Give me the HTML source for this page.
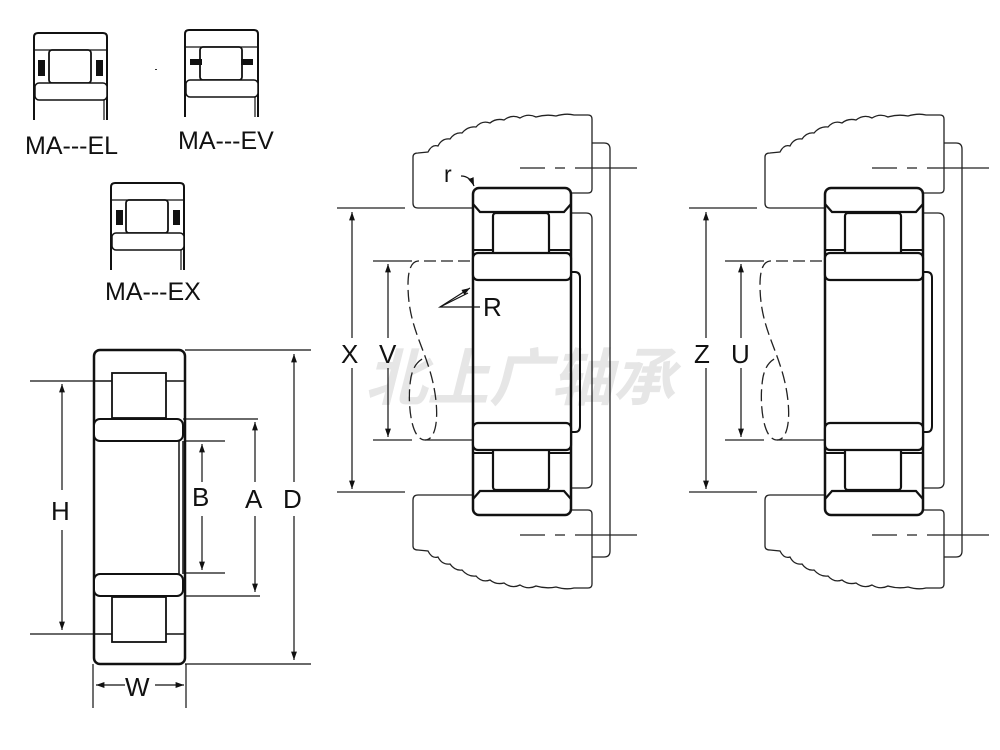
<!DOCTYPE html>
<html><head><meta charset="utf-8"><style>
html,body{margin:0;padding:0;background:#fff;}
svg{display:block;}
text{font-family:"Liberation Sans","Noto Sans CJK SC",sans-serif;fill:#111;}
</style></head><body>
<svg width="1000" height="750" viewBox="0 0 1000 750" xmlns="http://www.w3.org/2000/svg">
<defs>
<marker id="ar" viewBox="0 0 10 10" refX="10" refY="5" markerWidth="7" markerHeight="7" orient="auto-start-reverse"><path d="M0,1.5 L10,5 L0,8.5 z" fill="#111"/></marker>
<g id="icon">
 <path d="M0,87 V4 Q0,0 4,0 H69 Q73,0 73,4 V87" fill="none" stroke="#111" stroke-width="2"/>
 <line x1="70" y1="50" x2="70" y2="87" stroke="#111" stroke-width="1.2"/>
 <line x1="1" y1="17" x2="73" y2="17" stroke="#111" stroke-width="1.2"/>
 <rect x="15" y="17" width="42" height="33" rx="3" fill="#fff" stroke="#111" stroke-width="1.8"/>
 <rect x="1" y="50" width="72" height="17" rx="4" fill="#fff" stroke="#111" stroke-width="1.5"/>
</g>
<g id="mid">
 <path d="M472,208 H418 Q413,208 413,203 V157 Q413,153 418,153 L428,152 Q432,144 438,146 Q442,138 450,139 Q455,132 462,133 Q468,126 476,127 Q482,120 490,123 Q496,118 504,120 Q512,114 520,118 Q528,113 536,117 Q546,114 556,116 Q566,113 574,115 H588 Q592,115 592,119 V189 Q592,193 588,193 H571" fill="none" stroke="#222" stroke-width="1.3"/>
 <path d="M472,495 H418 Q413,495 413,500 V546 Q413,550 418,550 L428,551 Q432,559 438,557 Q442,565 450,564 Q455,571 462,570 Q468,577 476,576 Q482,583 490,580 Q496,585 504,583 Q512,589 520,585 Q528,590 536,586 Q546,589 556,587 Q566,590 574,588 H588 Q592,588 592,584 V514 Q592,510 588,510 H571" fill="none" stroke="#222" stroke-width="1.3"/>
 <path d="M592,143 H604 Q610,143 610,149 V551 Q610,557 604,557 H592" fill="none" stroke="#222" stroke-width="1.3"/>
 <path d="M571,213 H586 Q592,213 592,219 V482 Q592,488 586,488 H571" fill="none" stroke="#222" stroke-width="1.3"/>
 <path d="M520,168 H545 M555,168 H565 M575,168 H637" stroke="#222" stroke-width="1.2"/>
 <path d="M520,535 H545 M555,535 H565 M575,535 H637" stroke="#222" stroke-width="1.2"/>
 <rect x="473" y="188" width="98" height="327" rx="6" fill="none" stroke="#111" stroke-width="2.5"/>
 <path d="M473,204 L480,212 H564 L571,204" fill="none" stroke="#111" stroke-width="2.2"/>
 <path d="M473,499 L480,491 H564 L571,499" fill="none" stroke="#111" stroke-width="2.2"/>
 <rect x="493" y="213" width="56" height="42" rx="3" fill="#fff" stroke="#111" stroke-width="2.2"/>
 <rect x="493" y="448" width="56" height="42" rx="3" fill="#fff" stroke="#111" stroke-width="2.2"/>
 <path d="M473,250 H493 M549,250 H571 M473,453 H493 M549,453 H571" stroke="#111" stroke-width="2"/>
 <rect x="473" y="253" width="98" height="27" rx="5" fill="#fff" stroke="#111" stroke-width="2.2"/>
 <rect x="473" y="423" width="98" height="27" rx="5" fill="#fff" stroke="#111" stroke-width="2.2"/>
 <path d="M571,272 H575 Q580,272 580,278 V426 Q580,432 575,432 H571" fill="none" stroke="#111" stroke-width="2"/>
 <path d="M470,261 H418 Q408,262 408,285 C408,320 420,340 428,365 C440,400 440,440 425,440 C410,440 408,400 410,385 C411,370 416,362 424,358" fill="none" stroke="#222" stroke-width="1.3" stroke-dasharray="12,5"/>
 <path d="M425,440 H472" stroke="#222" stroke-width="1.2"/>
 <path d="M337,208 H405 M337,492 H405 M373,261 H412" stroke="#222" stroke-width="1.2"/>
 <path d="M373,440 H412" stroke="#222" stroke-width="1.2"/>
</g>
</defs>

<use href="#icon" x="34" y="33"/>
<rect x="38" y="60" width="7" height="16" fill="#111"/><rect x="96" y="60" width="7" height="16" fill="#111"/>
<use href="#icon" x="185" y="30"/>
<rect x="190" y="59" width="12" height="6" fill="#111"/><rect x="241" y="59" width="12" height="6" fill="#111"/>
<use href="#icon" x="111" y="183"/>
<rect x="116" y="210" width="7" height="15" fill="#111"/><rect x="173" y="210" width="7" height="15" fill="#111"/>
<rect x="155" y="69" width="2" height="1" fill="#333"/>
<text x="25" y="154" font-size="25">MA---EL</text>
<text x="178" y="149" font-size="25">MA---EV</text>
<text x="105" y="300" font-size="25">MA---EX</text>

<text x="365" y="400" font-size="62" font-weight="bold" font-style="italic" style="fill:#e6e6e6" font-family="'Noto Sans CJK SC',sans-serif">北上广轴承</text>

<g stroke="#111" fill="none">
 <rect x="94" y="350" width="91" height="314" rx="6" stroke-width="2.5"/>
 <rect x="112" y="373" width="54" height="45" stroke-width="1.8" fill="#fff"/>
 <rect x="112" y="597" width="54" height="45" stroke-width="1.8" fill="#fff"/>
 <path d="M94,381 H112 M166,381 H184 M94,634 H112 M166,634 H184" stroke-width="1.5"/>
 <rect x="94" y="419" width="89" height="22" rx="6" stroke-width="2" fill="#fff"/>
 <rect x="94" y="574" width="89" height="22" rx="6" stroke-width="2" fill="#fff"/>
 <path d="M179,441 V574 M183,441 V574" stroke-width="1.5"/>
 <path d="M185,350 H311 M185,664 H311 M183,419 H258 M184,596 H260 M184,441 H225 M184,573 H225 M30,381 H94 M30,634 H94" stroke-width="1.2"/>
 <path d="M93,664 V708 M186,664 V708" stroke-width="1.2"/>
 <path d="M62,490 V384" stroke-width="1.2" marker-end="url(#ar)"/>
 <path d="M62,530 V630" stroke-width="1.2" marker-end="url(#ar)"/>
 <path d="M202,482 V444" stroke-width="1.2" marker-end="url(#ar)"/>
 <path d="M202,516 V570" stroke-width="1.2" marker-end="url(#ar)"/>
 <path d="M255,482 V422" stroke-width="1.2" marker-end="url(#ar)"/>
 <path d="M255,516 V592" stroke-width="1.2" marker-end="url(#ar)"/>
 <path d="M294,482 V354" stroke-width="1.2" marker-end="url(#ar)"/>
 <path d="M294,516 V660" stroke-width="1.2" marker-end="url(#ar)"/>
 <path d="M125,685 H96" stroke-width="1.2" marker-end="url(#ar)"/>
 <path d="M155,685 H184" stroke-width="1.2" marker-end="url(#ar)"/>
</g>
<text x="51" y="520" font-size="26">H</text>
<text x="192" y="506" font-size="26">B</text>
<text x="245" y="508" font-size="26">A</text>
<text x="283" y="508" font-size="26">D</text>
<text x="125" y="696" font-size="26">W</text>

<use href="#mid"/>
<g stroke="#111" fill="none" stroke-width="1.2">
 <path d="M352,338 V212" marker-end="url(#ar)"/>
 <path d="M352,368 V489" marker-end="url(#ar)"/>
 <path d="M388,338 V264" marker-end="url(#ar)"/>
 <path d="M388,368 V437" marker-end="url(#ar)"/>
 <path d="M480,307 H440 L470,288" marker-end="url(#ar)"/>
 <path d="M440,307 L468,293"/>
 <path d="M461,176 Q470,176 474,186" marker-end="url(#ar)"/>
</g>
<text x="341" y="363" font-size="26">X</text>
<text x="379" y="363" font-size="26">V</text>
<text x="483" y="316" font-size="26">R</text>
<text x="444" y="182" font-size="23">r</text>

<use href="#mid" x="352"/>
<g stroke="#111" fill="none" stroke-width="1.2">
 <path d="M706,338 V212" marker-end="url(#ar)"/>
 <path d="M706,368 V489" marker-end="url(#ar)"/>
 <path d="M741,338 V264" marker-end="url(#ar)"/>
 <path d="M741,368 V437" marker-end="url(#ar)"/>
</g>
<text x="694" y="363" font-size="26">Z</text>
<text x="731" y="363" font-size="26">U</text>
</svg>
</body></html>
